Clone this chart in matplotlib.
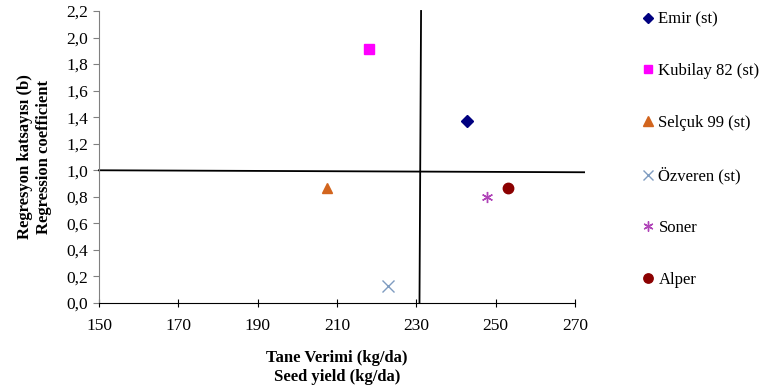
import matplotlib
matplotlib.use("Agg")
import matplotlib.pyplot as plt
from matplotlib.ticker import FuncFormatter

plt.rcParams['font.family'] = ['Liberation Serif', 'DejaVu Serif']

# genotypes: seed yield (kg/da) vs regression coefficient (b)
names = ['Emir (st)', 'Kubilay 82 (st)', 'Selçuk 99 (st)', 'Özveren (st)', 'Soner', 'Alper']
seed_yield = [242.7, 218.0, 207.5, 222.9, 247.7, 253.0]
reg_coef = [1.37, 1.91, 0.87, 0.13, 0.80, 0.87]
markers = ['D', 's', '^', 'x', '*', 'o']
colors = ['#000080', '#FF00FF', '#D2651E', '#7F9CC0', '#B044B8', '#8B0000']
sizes = [6, 7, 7.5, 8, 8, 7.5]

# reference lines (mean yield and b = 1)
hline_x = [150, 272.3]
hline_y = [1.0, 0.985]
vline_x = [230.8, 231.2]
vline_y = [0.0, 2.2]

xticks = [150, 170, 190, 210, 230, 250, 270]
yticks = [0.0, 0.2, 0.4, 0.6, 0.8, 1.0, 1.2, 1.4, 1.6, 1.8, 2.0, 2.2]

fig = plt.figure(figsize=(7.69, 3.92), dpi=100)
ax = fig.add_axes([0.1287, 0.227, 0.619, 0.745])

ax.plot(hline_x, hline_y, color='black', lw=1.3, clip_on=False, zorder=2)
ax.plot(vline_x, vline_y, color='black', lw=1.3, clip_on=False, zorder=2)

handles = []
for nm, x, y, m, c, s in zip(names, seed_yield, reg_coef, markers, colors, sizes):
    if m == '*':
        h, = ax.plot([x], [y], linestyle='none', marker=(6, 2, 0), markersize=s,
                     color=c, markeredgewidth=1.0, label=nm, zorder=3, clip_on=False)
    elif m == 'x':
        h, = ax.plot([x], [y], linestyle='none', marker='x', markersize=s,
                     color=c, markeredgewidth=1.0, label=nm, zorder=3, clip_on=False)
    else:
        h, = ax.plot([x], [y], linestyle='none', marker=m, markersize=s,
                     color=c, markeredgecolor=c, label=nm, zorder=3, clip_on=False)
    handles.append(h)

ax.set_xlim(150, 270)
ax.set_ylim(0, 2.2)
ax.set_xticks(xticks)
ax.set_yticks(yticks)
ax.yaxis.set_major_formatter(FuncFormatter(lambda v, p: f'{v:.1f}'.replace('.', ',')))

for side in ['top', 'right']:
    ax.spines[side].set_visible(False)
ax.spines['left'].set_color('#808080')
ax.spines['bottom'].set_color('black')
ax.tick_params(axis='x', direction='inout', length=6, labelsize=12.5, pad=8, color='black')
ax.tick_params(axis='y', direction='out', length=4, labelsize=12.5, pad=4, color='#808080')

ax.set_xlabel('Tane Verimi (kg/da)\nSeed yield (kg/da)', fontsize=12, fontweight='bold',
              labelpad=11, linespacing=1.3)
ax.set_ylabel('Regresyon katsayısı (b)\nRegression coefficient', fontsize=12, fontweight='bold',
              labelpad=10, linespacing=1.25)

fig.legend(handles=handles, loc='upper left', bbox_to_anchor=(0.828, 0.988), frameon=False,
           fontsize=12, labelspacing=2.15, handlelength=0.6, handletextpad=0.3,
           borderaxespad=0, markerscale=0.9)

fig.savefig('out.png', dpi=100)
